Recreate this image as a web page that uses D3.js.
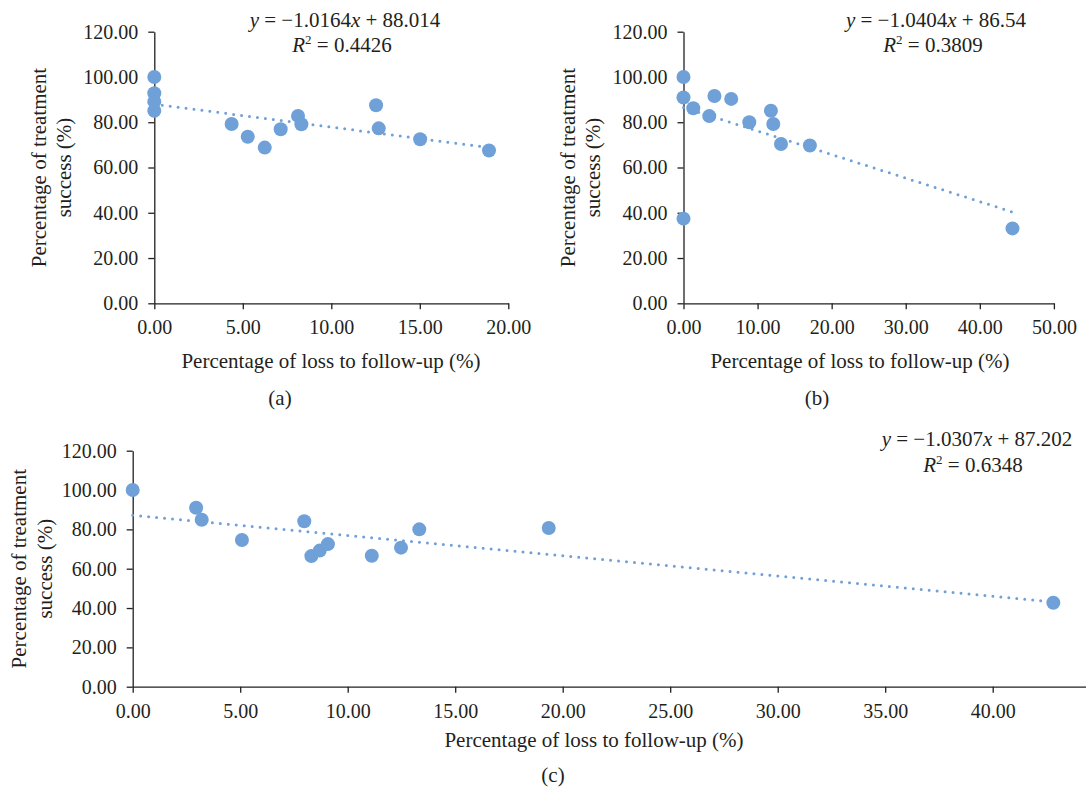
<!DOCTYPE html>
<html>
<head>
<meta charset="utf-8">
<script src="https://cdn.jsdelivr.net/npm/d3@7"></script>
<style>
  html, body { margin: 0; padding: 0; background: #ffffff; }
  svg { display: block; font-family: "Liberation Serif", "Times New Roman", serif; }
</style>
</head>
<body>
<svg id="chart" width="1086" height="788"></svg>
<script>
// ---- Data: loss to follow-up (%) vs treatment success (%) ----
// Panel (a)
const lossA    = [0, 0, 0, 0, 4.37, 5.28, 6.24, 7.14, 8.12, 8.31, 12.53, 12.68, 15.02, 18.91];
const successA = [100, 92.8, 89.1, 85.1, 79.2, 73.6, 68.8, 76.9, 82.8, 79.1, 87.5, 77.3, 72.5, 67.5];
// Panel (b)
const lossB    = [0, 0, 1.32, 3.48, 4.18, 6.44, 8.88, 11.8, 12.12, 13.16, 17.06, 0, 44.41];
const successB = [100, 90.9, 86.2, 82.7, 91.6, 90.3, 80.0, 85.1, 79.2, 70.4, 69.7, 37.4, 33.1];
// Panel (c)
const lossC    = [0, 2.95, 3.21, 5.08, 7.98, 8.31, 8.70, 9.08, 11.12, 12.48, 13.33, 19.35, 42.82];
const successC = [100, 91.0, 84.9, 74.6, 84.1, 66.4, 69.2, 72.5, 66.6, 70.7, 80.0, 80.7, 42.7];

// Linear trendlines (slope, intercept, R squared) for panels a, b, c
const trendSlope     = [-1.0164, -1.0404, -1.0307];
const trendIntercept = [88.014, 86.54, 87.202];
const trendR2        = ["0.4426", "0.3809", "0.6348"];

// Tick values
const yTicks  = [0, 20, 40, 60, 80, 100, 120];
const xTicksA = [0, 5, 10, 15, 20];
const xTicksB = [0, 10, 20, 30, 40, 50];
const xTicksC = [0, 5, 10, 15, 20, 25, 30, 35, 40];

// Text
const xTitle = "Percentage of loss to follow-up (%)";
const yTitleLines = ["Percentage of treatment", "success (%)"];
const captions = ["(a)", "(b)", "(c)"];

// ---- Drawing ----
const svg = d3.select("#chart");
const fmt = d3.format(".2f");
const INK = "#231f20";
const DOT = "#6fa0d8";
const FONT = "'Liberation Serif', 'Times New Roman', serif";

const panels = [
  { loss: lossA, success: successA, xTicks: xTicksA, xDomain: [0, 20], xRange: [154.3, 508.3], yRange: [303.3, 31.7],
    eqX: 345, r2X: 342, eqY: 27, r2Y: 52, xTitleX: 331, xTitleY: 368, yTitleX: [46, 71], capX: 280, capY: 405 },
  { loss: lossB, success: successB, xTicks: xTicksB, xDomain: [0, 50], xRange: [683.5, 1053.9], yRange: [303.3, 31.7],
    eqX: 936, r2X: 933, eqY: 27, r2Y: 52, xTitleX: 860, xTitleY: 368, yTitleX: [575, 600], capX: 817, capY: 405 },
  { loss: lossC, success: successC, xTicks: xTicksC, xDomain: [0, 45], xRange: [132.7, 1100.2], yRange: [686.7, 450.7],
    eqX: 977, r2X: 973, eqY: 446, r2Y: 472, xTitleX: 594, xTitleY: 747, yTitleX: [26, 52], capX: 553, capY: 782 }
];

panels.forEach((p, i) => {
  const x = d3.scaleLinear().domain(p.xDomain).range(p.xRange);
  const y = d3.scaleLinear().domain([0, 120]).range(p.yRange);
  const g = svg.append("g").attr("class", "panel");

  const styleAxis = sel => {
    sel.attr("font-family", FONT).attr("font-size", 20);
    sel.selectAll(".domain, .tick line").attr("stroke", INK).attr("stroke-width", 1.3);
    sel.selectAll(".tick text").attr("fill", INK);
  };

  g.append("g")
    .attr("transform", `translate(0,${p.yRange[0]})`)
    .call(d3.axisBottom(x).tickValues(p.xTicks).tickFormat(fmt).tickSize(6).tickSizeOuter(0).tickPadding(11))
    .call(styleAxis);

  g.append("g")
    .attr("transform", `translate(${p.xRange[0]},0)`)
    .call(d3.axisLeft(y).tickValues(yTicks).tickFormat(fmt).tickSize(6).tickSizeOuter(0).tickPadding(10))
    .call(styleAxis);

  // data points
  const pts = p.loss.map((v, k) => [v, p.success[k]]);
  g.append("g").selectAll("circle").data(pts).join("circle")
    .attr("cx", d => x(d[0]))
    .attr("cy", d => y(d[1]))
    .attr("r", 7)
    .attr("fill", DOT);

  // dotted linear trendline across the data range
  const m = trendSlope[i], b = trendIntercept[i];
  const x0 = d3.min(p.loss), x1 = d3.max(p.loss);
  g.append("line")
    .attr("x1", x(x0)).attr("y1", y(m * x0 + b))
    .attr("x2", x(x1)).attr("y2", y(m * x1 + b))
    .attr("stroke", DOT)
    .attr("stroke-width", 3)
    .attr("stroke-linecap", "round")
    .attr("stroke-dasharray", "0 8");

  // trendline equation and R squared
  const eq = g.append("text")
    .attr("x", p.eqX).attr("y", p.eqY)
    .attr("text-anchor", "middle")
    .attr("font-family", FONT).attr("font-size", 21).attr("fill", INK);
  eq.append("tspan").attr("font-style", "italic").text("y");
  eq.append("tspan").text(" = \u2212" + Math.abs(m).toFixed(4));
  eq.append("tspan").attr("font-style", "italic").text("x");
  eq.append("tspan").text(" + " + b);

  const r2 = g.append("text")
    .attr("x", p.r2X).attr("y", p.r2Y)
    .attr("text-anchor", "middle")
    .attr("font-family", FONT).attr("font-size", 21).attr("fill", INK);
  r2.append("tspan").attr("font-style", "italic").text("R");
  r2.append("tspan").attr("font-size", 13).attr("dy", -8).text("2");
  r2.append("tspan").attr("dy", 8).text(" = " + trendR2[i]);

  // axis titles
  g.append("text")
    .attr("x", p.xTitleX).attr("y", p.xTitleY)
    .attr("text-anchor", "middle")
    .attr("font-family", FONT).attr("font-size", 21).attr("fill", INK)
    .text(xTitle);

  const yMid = (p.yRange[0] + p.yRange[1]) / 2;
  yTitleLines.forEach((line, k) => {
    g.append("text")
      .attr("transform", `translate(${p.yTitleX[k]},${yMid}) rotate(-90)`)
      .attr("text-anchor", "middle")
      .attr("font-family", FONT).attr("font-size", 21).attr("fill", INK)
      .text(line);
  });

  // panel caption
  g.append("text")
    .attr("x", p.capX).attr("y", p.capY)
    .attr("text-anchor", "middle")
    .attr("font-family", FONT).attr("font-size", 21).attr("fill", INK)
    .text(captions[i]);
});
</script>
</body>
</html>
